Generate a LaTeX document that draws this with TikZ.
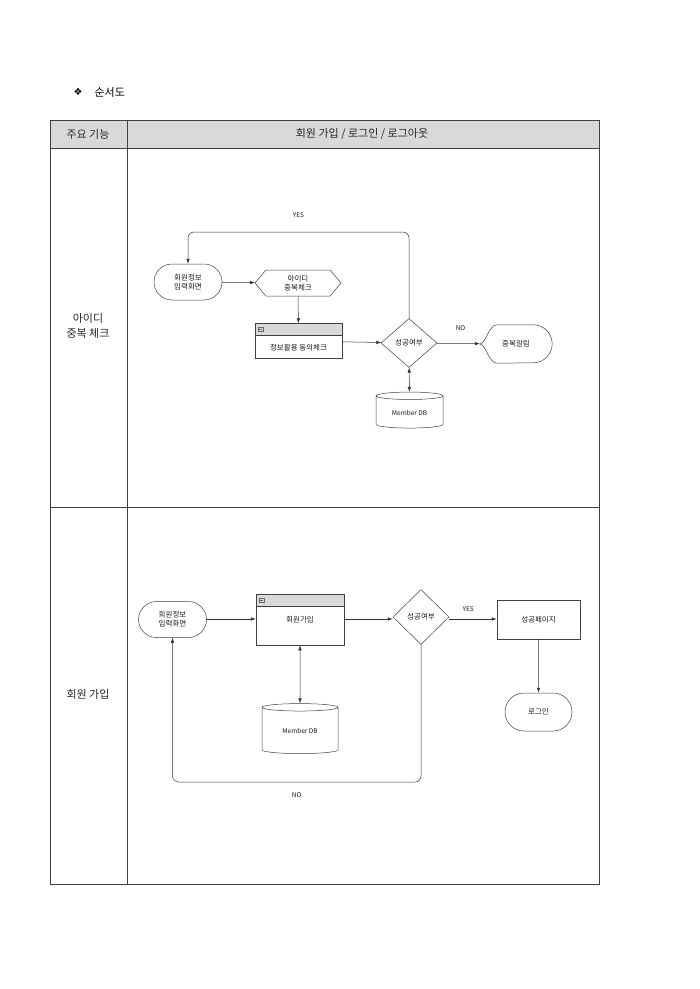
\documentclass[tikz,border=0pt]{standalone}
\usepackage{fontspec}
\setmainfont{Noto Sans CJK KR}
\newfontfamily\symfont{DejaVu Sans}
\usetikzlibrary{shapes.misc,shapes.geometric,shapes.symbols,arrows.meta}

\begin{document}
\begin{tikzpicture}[x=1pt, y=-1pt,
    every node/.style={font=\fontsize{7.5}{9}\selectfont, text=black!90},
    flow/.style={draw=black!75, line width=0.5pt, align=center, inner sep=1pt},
    start/.style={flow, rounded rectangle, minimum width=70pt, minimum height=36pt},
    hexbox/.style={flow, signal, signal to=west and east, signal pointer angle=100,
      minimum width=86pt, minimum height=26pt, inner sep=0pt},
    subbox/.style={flow, rectangle, path picture={
      \fill[black!15] (path picture bounding box.north west) rectangle
        ([yshift=-12pt]path picture bounding box.north east);
      \draw[black!75, line width=0.4pt] ([yshift=-12pt]path picture bounding box.north west)
        -- ([yshift=-12pt]path picture bounding box.north east);
      \draw[black!60, line width=0.3pt] ([xshift=3pt,yshift=-4pt]path picture bounding box.north west)
        rectangle ++(5pt,-4pt);
      \draw[black!60, line width=0.3pt] ([xshift=4pt,yshift=-6pt]path picture bounding box.north west)
        -- ++(3pt,0pt);}},
    decision/.style={flow, diamond, minimum width=56pt, minimum height=49pt, inner sep=0pt},
    db/.style={flow, cylinder, shape border rotate=90, aspect=0.2, font=\fontsize{6.5}{8}\selectfont},
    yesno/.style={font=\fontsize{6.5}{8}\selectfont},
    arr/.style={draw=black!80, line width=0.5pt, -{Latex[length=5pt,width=3.5pt]}},
    twoway/.style={draw=black!80, line width=0.5pt, {Latex[length=5pt,width=3.5pt]}-{Latex[length=5pt,width=3.5pt]}},
    head/.style={font=\fontsize{11}{15}\selectfont, align=center, text=black!85}
  ]
    \useasboundingbox (0,0) rectangle (700,989);

    \node[text=black] (t0) at (78,92) {\symfont\fontsize{10}{12}\selectfont ❖};
    \node[head, anchor=west, text=black] (t1) at (91,92) {순서도};

    \fill[black!15] (50,120) rectangle (599,148);
    \draw[black!75, line width=0.8pt] (50,120) rectangle (599,884);
    \draw[black!75, line width=0.8pt] (127,120) -- (127,884);
    \draw[black!75, line width=0.8pt] (50,148) -- (599,148);
    \draw[black!75, line width=0.8pt] (50,507) -- (599,507);

    \node[head] (h1) at (88,134) {주요 기능};
    \node[head] (h2) at (362,134) {회원 가입 / 로그인 / 로그아웃};
    \node[head] (r1) at (88,326) {아이디\\중복 체크};
    \node[head] (r2) at (88,694) {회원 가입};

    \node[start] (1) at (188,282) {회원정보\\입력화면};
    \node[hexbox] (2) at (298,283) {아이디\\중복체크};
    \node[subbox, minimum width=87pt, minimum height=35pt,
      label={[yshift=-7pt]center:정보활용 동의체크}] (3) at (298.5,341) {};
    \node[decision] (4) at (409,343) {성공여부};
    \node[minimum width=72pt, minimum height=38pt] (5) at (516,344) {중복알림};
    \draw[flow] (5.west) .. controls ([xshift=6]5.west) and ([xshift=9]5.north west) .. ([xshift=17]5.north west)
      -- ([xshift=-19]5.north east) arc[start angle=-90, end angle=90, x radius=19, y radius=19]
      -- ([xshift=17]5.south west) .. controls ([xshift=9]5.south west) and ([xshift=6]5.west) .. (5.west);
    \node[db, minimum width=67pt, minimum height=36pt] (6) at (409.5,412.5) {Member DB};

    \draw[arr] (1) -- (2);
    \draw[arr] (2) -- (3);
    \draw[arr] (3) -- (4);
    \draw[arr] (4) -- (5) node[yesno, pos=0.55, above=9pt] (n1) {NO};
    \draw[twoway] (4) -- (6);
    \draw[arr, rounded corners=6pt] (4.north) -- (4.north |- 0,232) -- (1.north |- 0,232)
      node[yesno, pos=0.5, above=11pt] (y1) {YES} -- (1.north);

    \node[start] (7) at (172.5,619.5) {회원정보\\입력화면};
    \node[subbox, minimum width=88pt, minimum height=51pt,
      label={[yshift=0pt]center:회원가입}] (8) at (300,619.5) {};
    \node[decision, minimum height=55pt] (9) at (421,617) {성공여부};
    \node[flow, rectangle, minimum width=83pt, minimum height=39pt] (10) at (538.5,619.5) {성공페이지};
    \node[start, minimum width=69pt, minimum height=38pt] (11) at (538.5,712) {로그인};
    \node[db, minimum width=76pt, minimum height=50pt] (12) at (300,731) {Member DB};

    \draw[arr] (7.east |- 0,619) -- (8.west |- 0,619);
    \draw[arr] (8.east |- 0,619) -- (9.west |- 0,619);
    \draw[arr] (9.east |- 0,619) -- (10.west |- 0,619) node[yesno, pos=0.4, above=4pt] (y2) {YES};
    \draw[arr] (10) -- (11);
    \draw[twoway] (8) -- (12);
    \draw[arr, rounded corners=6pt] (9.south) -- (9.south |- 0,782) -- (7.south |- 0,782)
      node[yesno, pos=0.5, below=7pt] (n2) {NO} -- (7.south);
\end{tikzpicture}
\end{document}
